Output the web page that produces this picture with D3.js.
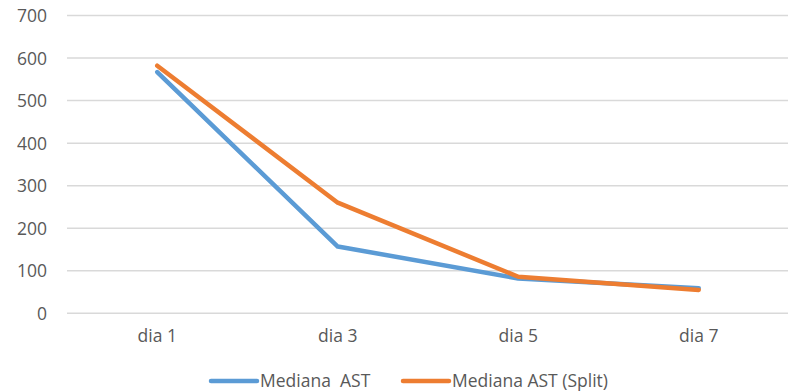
<!DOCTYPE html>
<html>
<head>
<meta charset="utf-8">
<script src="https://cdn.jsdelivr.net/npm/d3@7"></script>
<style>
  html, body { margin: 0; padding: 0; background: #fff; }
  svg { display: block; }
  text { font-family: "Open Sans", "Liberation Sans", sans-serif; fill: #595959; }
</style>
</head>
<body>
<svg id="chart" width="788" height="391"></svg>
<script>
const categories = ["dia 1", "dia 3", "dia 5", "dia 7"];
const seriesNames = ["Mediana\u00a0 AST", "Mediana AST (Split)"];
const medianaAST = [567, 157, 82, 59];
const medianaASTSplit = [582, 260, 86, 55];
const yTicks = [0, 100, 200, 300, 400, 500, 600, 700];
const colors = ["#5B9BD5", "#ED7D31"];

const series = [
  { name: seriesNames[0], values: medianaAST, color: colors[0] },
  { name: seriesNames[1], values: medianaASTSplit, color: colors[1] }
];

const FS = 17.5;
const svg = d3.select("#chart");
const x = d3.scaleBand().domain(categories).range([67, 789]);
const y = d3.scaleLinear().domain([0, 700]).range([313.3, 15.5]);

// y axis labels
const yAxis = d3.axisLeft(y).tickValues(yTicks).tickSize(0).tickPadding(0);
const gy = svg.append("g").attr("transform", "translate(47,0)").call(yAxis);
gy.select(".domain").remove();
gy.selectAll("text").attr("font-size", FS).attr("fill", "#595959")
  .attr("font-family", '"Open Sans", sans-serif').attr("dy", "0.35em");

// gridlines
svg.append("g").selectAll("line").data(yTicks).join("line")
  .attr("x1", 67).attr("x2", 788)
  .attr("y1", d => y(d)).attr("y2", d => y(d))
  .attr("stroke", "#D9D9D9").attr("stroke-width", 1.5);

// x axis labels
const xAxis = d3.axisBottom(x).tickSize(0).tickPadding(0);
const gx = svg.append("g").attr("transform", "translate(0,336)").call(xAxis);
gx.select(".domain").remove();
gx.selectAll("text").attr("font-size", FS).attr("fill", "#595959")
  .attr("font-family", '"Open Sans", sans-serif').attr("dy", "0.35em");

// lines
const line = d3.line()
  .x((d, i) => x(categories[i]) + x.bandwidth() / 2)
  .y(d => y(d));

svg.append("g").selectAll("path").data(series).join("path")
  .attr("d", d => line(d.values))
  .attr("fill", "none")
  .attr("stroke", d => d.color)
  .attr("stroke-width", 4.5)
  .attr("stroke-linejoin", "round")
  .attr("stroke-linecap", "round");

// legend
const legendX = [211, 403];
const lg = svg.append("g").selectAll("g").data(series).join("g")
  .attr("transform", (d, i) => `translate(${legendX[i]},381)`);
lg.append("line").attr("x1", 0).attr("x2", 46).attr("y1", 0).attr("y2", 0)
  .attr("stroke", d => d.color).attr("stroke-width", 4.5).attr("stroke-linecap", "round");
lg.append("text").attr("x", 49).attr("y", 0).attr("dy", "0.35em")
  .attr("font-size", FS).text(d => d.name);
</script>
</body>
</html>
